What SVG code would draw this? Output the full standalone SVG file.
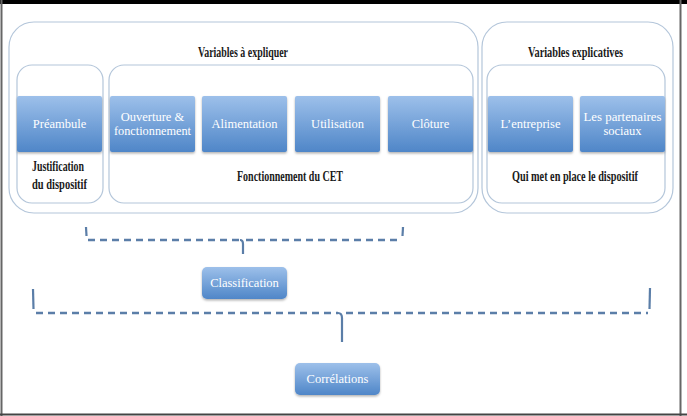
<svg xmlns="http://www.w3.org/2000/svg" width="687" height="416" viewBox="0 0 687 416">
<defs>
<linearGradient id="blue" x1="0" y1="0" x2="0" y2="1">
<stop offset="0" stop-color="#9dc0ea"/>
<stop offset="1" stop-color="#4f86c8"/>
</linearGradient>
<filter id="sh" x="-10%" y="-10%" width="120%" height="130%">
<feDropShadow dx="0" dy="1.5" stdDeviation="1" flood-color="#000" flood-opacity="0.3"/>
</filter>
</defs>
<style>
.frame{fill:none;stroke:#b4c6da;stroke-width:1.2}
.box{fill:url(#blue);filter:url(#sh)}
.wt{font-family:"Liberation Serif",serif;font-size:12.5px;fill:#fff;text-anchor:middle}
.bt{font-family:"Liberation Serif",serif;font-size:14px;fill:#1a1a1a;text-anchor:middle;font-weight:bold}
.dash{fill:none;stroke:#5b7ea8;stroke-width:2.5;stroke-dasharray:7,5}
.solid{fill:none;stroke:#5b7ea8;stroke-width:2.2}
</style>
<rect x="0" y="0" width="687" height="416" fill="#fff"/>
<rect x="0" y="0" width="687" height="4" fill="#000"/>
<line x1="1.5" y1="0" x2="1.5" y2="416" stroke="#666" stroke-width="2"/>
<line x1="680.5" y1="0" x2="680.5" y2="416" stroke="#666" stroke-width="2"/>
<line x1="0" y1="414.5" x2="687" y2="414.5" stroke="#444" stroke-width="2"/>

<g id="variables-a-expliquer">
<rect class="frame" x="9" y="22" width="469" height="191" rx="25"/>
<text class="bt" x="243" y="57" textLength="90" lengthAdjust="spacingAndGlyphs">Variables à expliquer</text>
</g>
<g id="variables-explicatives">
<rect class="frame" x="482" y="22" width="191" height="191" rx="25"/>
<text class="bt" x="575.5" y="57" textLength="95" lengthAdjust="spacingAndGlyphs">Variables explicatives</text>
</g>
<g id="preambule-group">
<rect class="frame" x="17" y="65" width="86" height="138" rx="15"/>
<text class="bt" x="58" y="171" textLength="52" lengthAdjust="spacingAndGlyphs">Justification</text>
<text class="bt" x="59.5" y="189" textLength="55" lengthAdjust="spacingAndGlyphs">du dispositif</text>
</g>
<g id="fonctionnement-group">
<rect class="frame" x="109" y="65" width="364" height="138" rx="15"/>
<text class="bt" x="290" y="181" textLength="106" lengthAdjust="spacingAndGlyphs">Fonctionnement du CET</text>
</g>
<g id="acteurs-group">
<rect class="frame" x="487" y="65" width="178" height="138" rx="15"/>
<text class="bt" x="575" y="181" textLength="126" lengthAdjust="spacingAndGlyphs">Qui met en place le dispositif</text>
</g>

<g id="preambule"><rect class="box" x="17" y="96" width="85" height="56" rx="2"/><text class="wt" x="59.5" y="128">Préambule</text></g>
<g id="ouverture"><rect class="box" x="110" y="96" width="85" height="56" rx="2"/><text class="wt" x="152.5" y="121">Ouverture &amp;</text><text class="wt" x="152.5" y="135" textLength="77" lengthAdjust="spacingAndGlyphs">fonctionnement</text></g>
<g id="alimentation"><rect class="box" x="202" y="96" width="85" height="56" rx="2"/><text class="wt" x="244.5" y="128">Alimentation</text></g>
<g id="utilisation"><rect class="box" x="295" y="96" width="85" height="56" rx="2"/><text class="wt" x="337.5" y="128">Utilisation</text></g>
<g id="cloture"><rect class="box" x="388" y="96" width="85" height="56" rx="2"/><text class="wt" x="430.5" y="128">Clôture</text></g>
<g id="entreprise"><rect class="box" x="488" y="96" width="85" height="56" rx="2"/><text class="wt" x="530.5" y="128">L’entreprise</text></g>
<g id="partenaires"><rect class="box" x="580" y="96" width="85" height="56" rx="2"/><text class="wt" x="622.5" y="121" textLength="78" lengthAdjust="spacingAndGlyphs">Les partenaires</text><text class="wt" x="622.5" y="135">sociaux</text></g>

<g id="classification"><rect class="box" x="202" y="267" width="85" height="32" rx="5"/><text class="wt" x="244.5" y="287">Classification</text></g>
<g id="correlations"><rect class="box" x="295" y="363" width="85" height="32" rx="5"/><text class="wt" x="337.5" y="383">Corrélations</text></g>

<g id="connectors">
<path class="solid" d="M86,227 L86.5,236"/>
<path class="dash" d="M88,240 L240,240"/>
<path class="dash" d="M246,240 L402,240"/>
<path class="solid" d="M240,240 Q243,240 243,244 L243,254"/>
<path class="solid" d="M403,227 L402.5,236"/>
<path class="solid" d="M33,289 L33.5,309"/>
<path class="dash" d="M36,313 L338,313"/>
<path class="dash" d="M346,313 L648,313"/>
<path class="solid" d="M338,313 Q342,313 342,318 L342,342"/>
<path class="solid" d="M650,288 L649.5,309"/>
</g>
</svg>
